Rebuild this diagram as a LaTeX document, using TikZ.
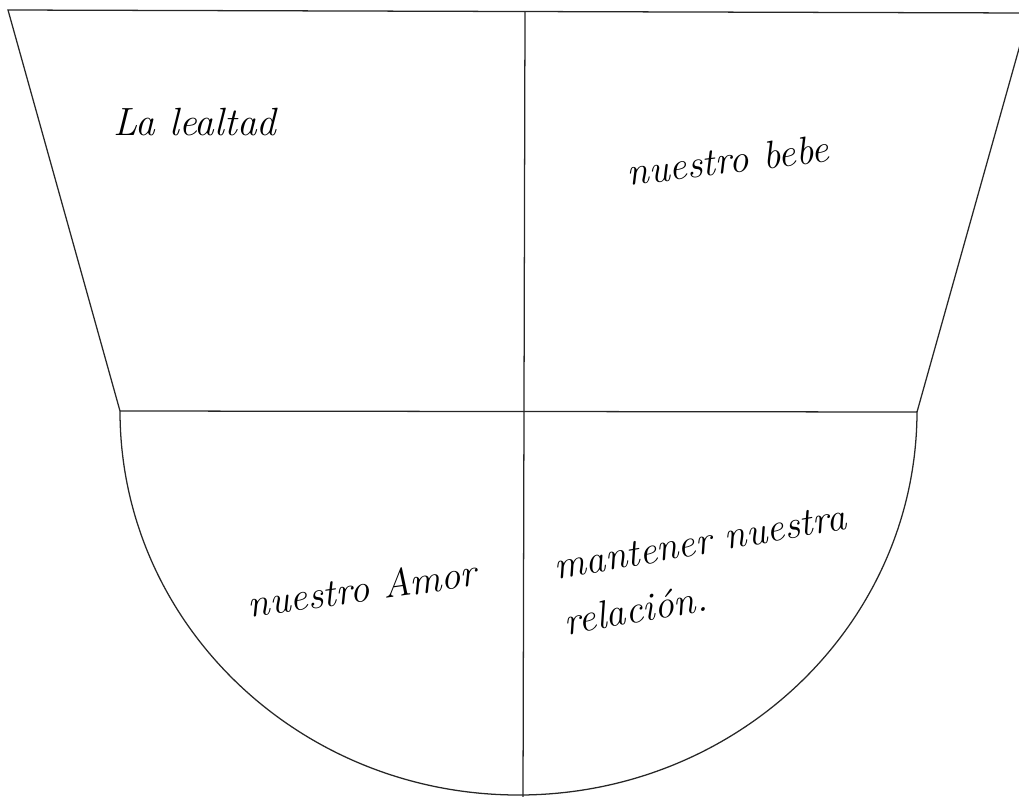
\documentclass[tikz,border=0pt]{standalone}
\usepackage{fontspec}
\usetikzlibrary{positioning}

\tikzset{
  hand/.style={font=\itshape\fontsize{28}{40}\selectfont, align=left},
  outline/.style={line width=0.9pt, black!85}
}

\begin{document}
\begin{tikzpicture}[x=0.025cm, y=-0.025cm]
\useasboundingbox (0,0) rectangle (1019,796);

% corner points of the cup
\coordinate (tl) at (8,10);
\coordinate (tr) at (1029,13);
\coordinate (ml) at (120,411);
\coordinate (mr) at (917,412);
\coordinate (top) at (525,11);
\coordinate (bot) at (523,800);

\begin{scope}
\clip (0,0) rectangle (1019,796);
% upper part
\draw[outline] (ml) -- (tl) -- (tr) -- (mr);
\draw[outline] (ml) -- (mr);
% bowl
\draw[outline] (ml) arc[start angle=180, end angle=0, x radius=398.5, y radius=384];
% middle line
\draw[outline] (top) -- (bot);
\end{scope}

% the four texts
\node[hand] (lealtad) at (195,122) {La lealtad};
\node[hand, rotate=7] (bebe) at (728,160) {nuestro bebe};
\node[hand, rotate=8] (amor) at (362,588) {nuestro Amor};
\node[hand, rotate=10] (relacion) at (705,570) {mantener nuestra\\relación.};

\end{tikzpicture}
\end{document}
